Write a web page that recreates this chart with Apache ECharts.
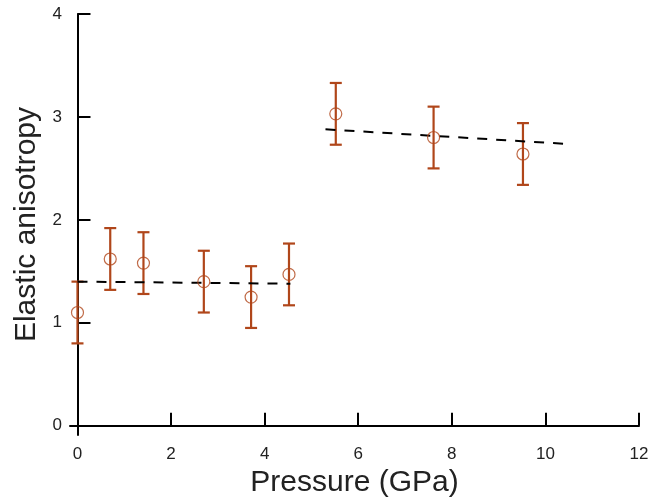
<!DOCTYPE html>
<html><head><meta charset="utf-8">
<script src="https://cdn.jsdelivr.net/npm/echarts@6/dist/echarts.min.js"></script>
<style>html,body{margin:0;padding:0;background:#fff}#c{width:650px;height:498px}</style>
</head><body><div id="c"></div>
<script>
const pressure = [0, 0.70, 1.41, 2.70, 3.71, 4.52, 5.52, 7.61, 9.52];
const anisotropy = [1.10, 1.62, 1.58, 1.40, 1.25, 1.47, 3.03, 2.80, 2.64];
const errors = [0.30, 0.30, 0.30, 0.30, 0.30, 0.30, 0.30, 0.30, 0.30];
const fitLow = [[0, 1.40], [4.55, 1.38]];
const fitHigh = [[5.30, 2.88], [10.38, 2.74]];
const xTicks = [0, 2, 4, 6, 8, 10, 12];
const yTicks = [0, 1, 2, 3, 4];

const rust = '#b0461a';
const font = 'Liberation Sans, Arial, Helvetica, sans-serif';
const chart = echarts.init(document.getElementById('c'));
const errData = pressure.map((p, i) => [p, anisotropy[i] - errors[i], anisotropy[i] + errors[i]]);
chart.setOption({
  animation: false,
  grid: {left: 70, right: 11, top: 14, bottom: 63, containLabel: false, outerBoundsMode: 'none'},
  xAxis: {
    type: 'value', min: -0.16, max: 12,
    name: 'Pressure (GPa)', nameLocation: 'middle', nameGap: 24,
    nameTextStyle: {fontSize: 30, color: '#222', fontFamily: font},
    axisLine: {lineStyle: {color: '#000', width: 2}},
    axisTick: {inside: true, length: 13, lineStyle: {color: '#000', width: 2}, customValues: xTicks},
    axisLabel: {fontSize: 17, color: '#222', fontFamily: font, margin: 11, customValues: xTicks},
    splitLine: {show: false}
  },
  yAxis: {
    type: 'value', min: -0.09, max: 4,
    name: 'Elastic anisotropy', nameLocation: 'middle', nameGap: 24, nameRotate: 90,
    nameTextStyle: {fontSize: 30, color: '#222', fontFamily: font},
    axisLine: {lineStyle: {color: '#000', width: 2}},
    axisTick: {inside: true, length: 13, lineStyle: {color: '#000', width: 2}, customValues: yTicks},
    axisLabel: {fontSize: 17, color: '#222', fontFamily: font, margin: 8, customValues: yTicks},
    splitLine: {show: false}
  },
  series: [
    {type: 'line', data: fitLow, showSymbol: false, lineStyle: {color: '#000', width: 2, type: [10, 9]}},
    {type: 'line', data: fitHigh, showSymbol: false, lineStyle: {color: '#000', width: 2, type: [10, 9]}},
    {
      type: 'custom', data: errData,
      renderItem: function (params, api) {
        const x = api.value(0);
        const lo = api.coord([x, api.value(1)]);
        const hi = api.coord([x, api.value(2)]);
        const w = 6;
        const st = {stroke: rust, lineWidth: 2.2};
        return {type: 'group', children: [
          {type: 'line', shape: {x1: lo[0], y1: lo[1], x2: hi[0], y2: hi[1]}, style: st},
          {type: 'line', shape: {x1: lo[0] - w, y1: lo[1], x2: lo[0] + w, y2: lo[1]}, style: st},
          {type: 'line', shape: {x1: hi[0] - w, y1: hi[1], x2: hi[0] + w, y2: hi[1]}, style: st}
        ]};
      },
      z: 3
    },
    {
      type: 'scatter', data: pressure.map((p, i) => [p, anisotropy[i]]),
      symbol: 'circle', symbolSize: 12,
      itemStyle: {color: 'rgba(255,255,255,0)', borderColor: rust, borderWidth: 1.2},
      z: 4
    }
  ]
});
</script></body></html>
